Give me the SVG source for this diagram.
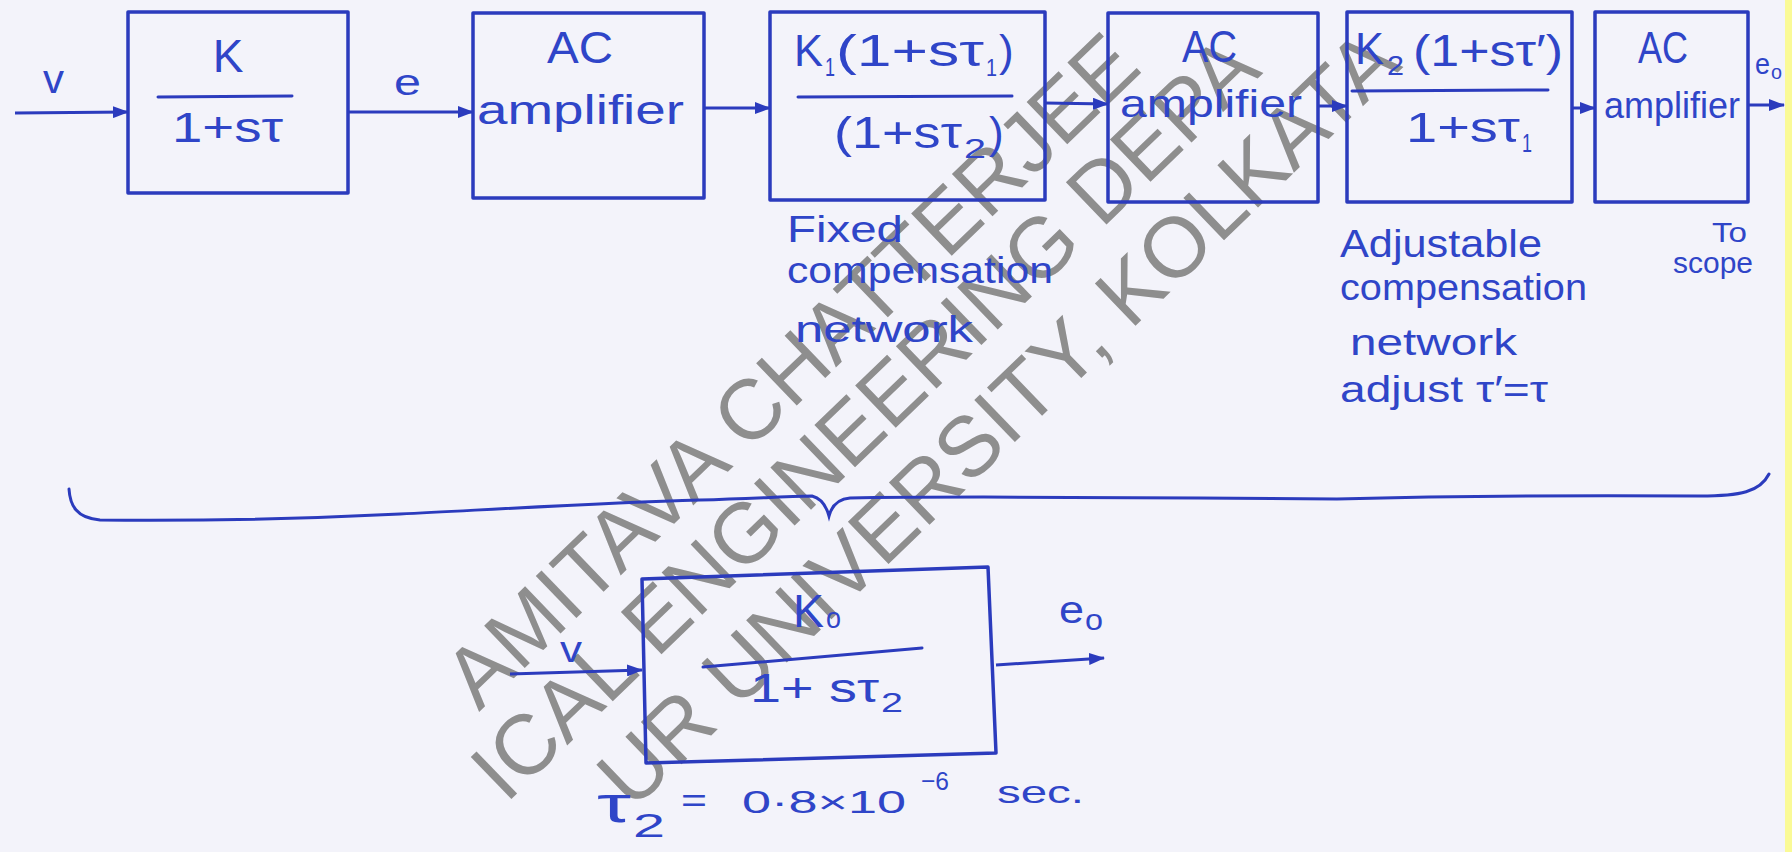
<svg xmlns="http://www.w3.org/2000/svg" width="1792" height="852" viewBox="0 0 1792 852">
<style>
.bx{fill:none;stroke:#2b3bbd;stroke-width:3.5;stroke-linejoin:round}
.ln{fill:none;stroke:#2b3bbd;stroke-width:3;stroke-linecap:round}
.ar{fill:none;stroke:#2b3bbd;stroke-width:3;marker-end:url(#ah)}
.t{fill:#2f45c8;font-family:"Liberation Sans",Arial,"DejaVu Sans",sans-serif}
.wm{fill:#8e8e8e;font-family:"Liberation Sans",Arial,sans-serif;font-size:85px}
</style>
<defs>
<marker id="ah" viewBox="0 0 16 12" refX="15" refY="6" markerWidth="16" markerHeight="12" markerUnits="userSpaceOnUse" orient="auto">
<path d="M0,0 L16,6 L0,12 z" fill="#2b3bbd"/>
</marker>
</defs>
<rect x="0" y="0" width="1792" height="852" fill="#f3f3fa"/>
<rect x="1785" y="0" width="7" height="852" fill="#fafa96"/>

<g id="watermark" class="wm" transform="rotate(-44)">
<text x="-150" y="845">AMITAVA CHATTERJEE</text>
<text x="-195" y="930">ICAL ENGINEERING DEPA</text>
<text x="-109" y="1023">UR UNIVERSITY, KOLKATA</text>
</g>

<g id="connectors">
<path class="ar" d="M15,113 L128,112"/>
<path class="ar" d="M348,112 L473,112"/>
<path class="ar" d="M704,108 L770,108"/>
<path class="ar" d="M1045,103 L1108,104"/>
<path class="ar" d="M1318,106 L1347,106"/>
<path class="ar" d="M1572,108 L1595,108"/>
<path class="ar" d="M1748,105 L1784,105"/>
<path class="ar" d="M510,674 L642,670"/>
<path class="ar" d="M996,665 L1104,658"/>
</g>

<g id="signal-labels">
<text class="t" x="43" y="93" font-size="40" textLength="21" lengthAdjust="spacingAndGlyphs">v</text>
<text class="t" x="394" y="95" font-size="36" textLength="27" lengthAdjust="spacingAndGlyphs">e</text>
<text class="t" x="1755" y="74" font-size="30" textLength="15" lengthAdjust="spacingAndGlyphs">e</text>
<text class="t" x="1771" y="79" font-size="20" textLength="11" lengthAdjust="spacingAndGlyphs">o</text>
<text class="t" x="560" y="662" font-size="36" textLength="22" lengthAdjust="spacingAndGlyphs">v</text>
<text class="t" x="1059" y="623" font-size="38" textLength="25" lengthAdjust="spacingAndGlyphs">e</text>
<text class="t" x="1085" y="630" font-size="30" textLength="18" lengthAdjust="spacingAndGlyphs">o</text>
</g>

<g id="node-plant">
<rect class="bx" x="128" y="12" width="220" height="181"/>
<text class="t" x="228" y="72" font-size="46" text-anchor="middle">K</text>
<path class="ln" d="M158,97 L292,96"/>
<text class="t" x="172" y="142" font-size="42" textLength="111" lengthAdjust="spacingAndGlyphs">1+sτ</text>
</g>

<g id="node-amp1">
<rect class="bx" x="473" y="13" width="231" height="185"/>
<text class="t" x="547" y="63" font-size="44" textLength="66" lengthAdjust="spacingAndGlyphs">AC</text>
<text class="t" x="477" y="124" font-size="40" textLength="207" lengthAdjust="spacingAndGlyphs">amplifier</text>
</g>

<g id="node-fixed-comp">
<rect class="bx" x="770" y="12" width="275" height="188"/>
<text class="t" x="794" y="66" font-size="44" textLength="29" lengthAdjust="spacingAndGlyphs">K</text>
<text class="t" x="825" y="76" font-size="26" textLength="10" lengthAdjust="spacingAndGlyphs">1</text>
<text class="t" x="836" y="66" font-size="44" textLength="148" lengthAdjust="spacingAndGlyphs">(1+sτ</text>
<text class="t" x="986" y="76" font-size="24" textLength="11" lengthAdjust="spacingAndGlyphs">1</text>
<text class="t" x="999" y="66" font-size="44">)</text>
<path class="ln" d="M798,97 L1012,96"/>
<text class="t" x="834" y="148" font-size="44" textLength="128" lengthAdjust="spacingAndGlyphs">(1+sτ</text>
<text class="t" x="964" y="158" font-size="28" textLength="22" lengthAdjust="spacingAndGlyphs">2</text>
<text class="t" x="989" y="148" font-size="44">)</text>
</g>

<g id="node-amp2">
<rect class="bx" x="1108" y="13" width="210" height="189"/>
<text class="t" x="1182" y="62" font-size="44" textLength="55" lengthAdjust="spacingAndGlyphs">AC</text>
<text class="t" x="1120" y="117" font-size="38" textLength="182" lengthAdjust="spacingAndGlyphs">amplifier</text>
</g>

<g id="node-adj-comp">
<rect class="bx" x="1347" y="12" width="225" height="190"/>
<text class="t" x="1355" y="64" font-size="44" textLength="29" lengthAdjust="spacingAndGlyphs">K</text>
<text class="t" x="1387" y="75" font-size="28" textLength="17" lengthAdjust="spacingAndGlyphs">2</text>
<text class="t" x="1413" y="66" font-size="44" textLength="150" lengthAdjust="spacingAndGlyphs">(1+sτ′)</text>
<path class="ln" d="M1352,91 L1548,90"/>
<text class="t" x="1406" y="142" font-size="42" textLength="114" lengthAdjust="spacingAndGlyphs">1+sτ</text>
<text class="t" x="1522" y="152" font-size="26" textLength="10" lengthAdjust="spacingAndGlyphs">1</text>
</g>

<g id="node-amp3">
<rect class="bx" x="1595" y="12" width="153" height="190"/>
<text class="t" x="1638" y="63" font-size="44" textLength="50" lengthAdjust="spacingAndGlyphs">AC</text>
<text class="t" x="1604" y="118" font-size="36" textLength="136" lengthAdjust="spacingAndGlyphs">amplifier</text>
</g>

<g id="notes">
<text class="t" x="787" y="242" font-size="36" textLength="116" lengthAdjust="spacingAndGlyphs">Fixed</text>
<text class="t" x="787" y="283" font-size="36" textLength="266" lengthAdjust="spacingAndGlyphs">compensation</text>
<text class="t" x="795" y="342" font-size="36" textLength="178" lengthAdjust="spacingAndGlyphs">network</text>
<text class="t" x="1340" y="257" font-size="38" textLength="202" lengthAdjust="spacingAndGlyphs">Adjustable</text>
<text class="t" x="1340" y="300" font-size="36" textLength="247" lengthAdjust="spacingAndGlyphs">compensation</text>
<text class="t" x="1350" y="355" font-size="36" textLength="167" lengthAdjust="spacingAndGlyphs">network</text>
<text class="t" x="1340" y="402" font-size="36" textLength="208" lengthAdjust="spacingAndGlyphs">adjust τ′=τ</text>
<text class="t" x="1712" y="242" font-size="28" textLength="35" lengthAdjust="spacingAndGlyphs">To</text>
<text class="t" x="1673" y="273" font-size="30" textLength="80" lengthAdjust="spacingAndGlyphs">scope</text>
</g>

<g id="brace">
<path class="ln" d="M69,489 C70,505 76,518 100,520 C200,521 300,519 400,514 C500,509 600,503 700,500 C760,498 800,496 812,496 C820,498 826,505 829,516 C832,505 838,499 850,498 C950,496 1100,497 1337,499 C1450,496 1550,495 1700,496 C1740,496 1760,492 1769,474"/>
</g>

<g id="node-overall">
<path class="bx" d="M642,579 L988,567 L996,753 L646,763 Z"/>
<text class="t" x="793" y="627" font-size="46" textLength="31" lengthAdjust="spacingAndGlyphs">K</text>
<text class="t" x="826" y="628" font-size="30" textLength="15" lengthAdjust="spacingAndGlyphs">o</text>
<path class="ln" d="M703,667 L922,648"/>
<text class="t" x="750" y="702" font-size="40" textLength="129" lengthAdjust="spacingAndGlyphs">1+ sτ</text>
<text class="t" x="881" y="712" font-size="28" textLength="22" lengthAdjust="spacingAndGlyphs">2</text>
</g>

<g id="note-tau2">
<text class="t" x="597" y="822" font-size="52" textLength="34" lengthAdjust="spacingAndGlyphs">τ</text>
<text class="t" x="633" y="837" font-size="34" textLength="32" lengthAdjust="spacingAndGlyphs">2</text>
<text class="t" x="681" y="812" font-size="34" textLength="26" lengthAdjust="spacingAndGlyphs">=</text>
<text class="t" x="742" y="813" font-size="32" textLength="164" lengthAdjust="spacingAndGlyphs">0·8×10</text>
<text class="t" x="921" y="790" font-size="26" textLength="28" lengthAdjust="spacingAndGlyphs">−6</text>
<text class="t" x="997" y="803" font-size="32" textLength="87" lengthAdjust="spacingAndGlyphs">sec.</text>
</g>
</svg>
